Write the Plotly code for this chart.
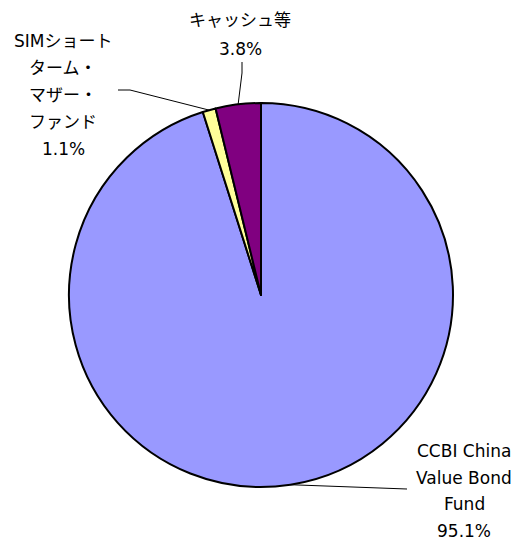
import math
import plotly.graph_objects as go

# Data
labels = ["CCBI China Value Bond Fund", "SIMショートターム・マザー・ファンド", "キャッシュ等"]
values = [95.1, 1.1, 3.8]
colors = ["#9999FF", "#FFFF99", "#800080"]
label_lines = [
    ["CCBI China", "Value Bond", "Fund", "95.1%"],
    ["SIMショート", "ターム・", "マザー・", "ファンド", "1.1%"],
    ["キャッシュ等", "3.8%"],
]

W, H = 531, 540
CX, CY, R = 261, 295, 192  # pie centre / radius in pixels

def px(x):
    return x / W

def py(y):
    return 1 - y / H

fig = go.Figure()
fig.add_trace(go.Pie(
    labels=labels, values=values, sort=False, direction="clockwise", rotation=0,
    marker=dict(colors=colors, line=dict(color="#000000", width=2)),
    textinfo="none", hoverinfo="label+percent", showlegend=False,
    domain=dict(x=[px(CX - R), px(CX + R)], y=[py(CY + R), py(CY - R)]),
))

# label text anchors (pixels): first-line centre, line spacing
text_pos = [(464, 451, 26.5), (63, 41, 27), (240, 20, 29)]
# leader bend points (pixels) after the pie edge point
leader_pts = [[(407, 489)], [(130, 90), (118, 90)], [(242, 73), (242, 62)]]

total = sum(values)
cum = 0
annotations = []
shapes = []
for i, v in enumerate(values):
    mid = (cum + v / 2) / total * 2 * math.pi
    cum += v
    ex = CX + R * math.sin(mid)
    ey = CY - R * math.cos(mid)
    pts = [(ex, ey)] + leader_pts[i]
    for (x0, y0), (x1, y1) in zip(pts[:-1], pts[1:]):
        shapes.append(dict(type="line", xref="paper", yref="paper",
                           x0=px(x0), y0=py(y0), x1=px(x1), y1=py(y1),
                           line=dict(color="#000000", width=1)))
    tx, ty, sp = text_pos[i]
    for j, line in enumerate(label_lines[i]):
        annotations.append(dict(text=line, x=px(tx), y=py(ty + j * sp), xref="paper", yref="paper",
                                xanchor="center", yanchor="middle", showarrow=False,
                                font=dict(family="DejaVu Sans, Noto Sans CJK JP", size=17, color="#000000")))

fig.update_layout(width=W, height=H, margin=dict(l=0, r=0, t=0, b=0),
                  paper_bgcolor="white", plot_bgcolor="white",
                  annotations=annotations, shapes=shapes)
fig.write_html("out.html")
